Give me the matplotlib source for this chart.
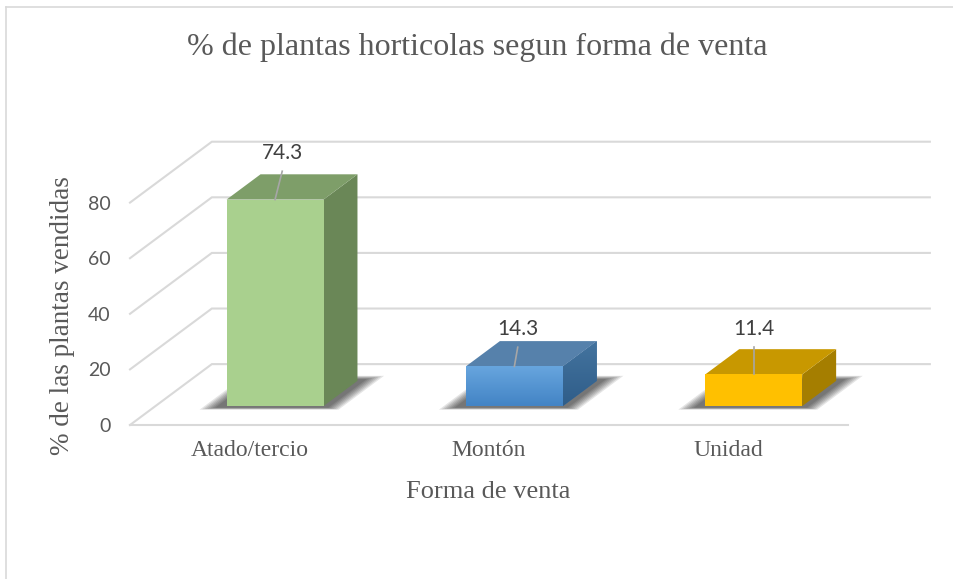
import numpy as np
import matplotlib
matplotlib.use("Agg")
import matplotlib.pyplot as plt
from matplotlib.patches import Polygon
from matplotlib.lines import Line2D
from matplotlib.colors import LinearSegmentedColormap

# data
categories = ["Atado/tercio", "Montón", "Unidad"]
values = [74.3, 14.3, 11.4]
yticks = [0, 20, 40, 60, 80]

title = "% de plantas horticolas segun forma de venta"
xlabel = "Forma de venta"
ylabel = "% de las plantas vendidas"

# styles (front top->bottom, top, side left->right)
front_colors = [("#A9D08E", "#A9D08E"), ("#67A5DE", "#4384C5"), ("#FFC000", "#FFC000")]
top_colors = ["#7E9E69", "#5681AB", "#C89800"]
side_colors = [("#6A8757", "#6A8757"), ("#44749F", "#2F5D89"), ("#A57E00", "#A57E00")]
label_dx = [0.03, 0.014, 0.0]
label_dy = [16.7, 13.4, 16.3]

SERIF = "Liberation Serif"
SANS = "Lato"
GRID = "#D9D9D9"

# oblique 3d look: full depth shifts x by DX (category units) and y by DY (value units)
DX, DY = 0.342, 21.9
D_FRONT, D_BACK = 0.31, 0.725
BAR_W = 0.405


def proj(x, v, d):
    return (x + DX * d, v + DY * d)


def face(ax, pts, c1, c2, z):
    poly = Polygon(pts, closed=True, facecolor=c1, edgecolor="none", zorder=z, clip_on=False)
    ax.add_patch(poly)
    if c1 != c2:
        xs = [p[0] for p in pts]
        ys = [p[1] for p in pts]
        cmap = LinearSegmentedColormap.from_list("g", [c2, c1])
        grad = np.linspace(0, 1, 64).reshape(-1, 1)
        im = ax.imshow(grad, extent=(min(xs), max(xs), min(ys), max(ys)), origin="lower",
                       cmap=cmap, aspect="auto", zorder=z, interpolation="bilinear")
        im.set_clip_path(poly)


fig = plt.figure(figsize=(9.54, 5.79), dpi=100)
fig.patch.set_facecolor("white")
ax = fig.add_axes([130 / 954, 154 / 579, 718 / 954, 278 / 579])
ax.set_facecolor("none")

# frame of the chart (only left/top visible in the picture)
fig.add_artist(Line2D([6.5 / 954, 6.5 / 954], [0, 1 - 6.5 / 579], transform=fig.transFigure,
                      color=GRID, lw=1.2))
fig.add_artist(Line2D([6.5 / 954, 1], [1 - 6.5 / 579, 1 - 6.5 / 579], transform=fig.transFigure,
                      color=GRID, lw=1.2))

x0, x1 = -0.5, len(categories) - 0.5
# side wall + back wall gridlines
for k in yticks:
    a = proj(x0, k, 0)
    b = proj(x0, k, 1)
    c = proj(x1, k, 1)
    ax.plot([a[0], b[0], c[0]], [a[1], b[1], c[1]], color=GRID, lw=1.5, zorder=1,
            clip_on=False, solid_joinstyle="miter")
# front floor edge
ax.plot([x0, x1], [0, 0], color=GRID, lw=1.5, zorder=1, clip_on=False)

for i, v in enumerate(values):
    xl, xr = i - BAR_W / 2, i + BAR_W / 2

    # soft shadow on the floor
    for k in range(7):
        e = 0.009 * (7 - k)
        pts = [proj(xl - 0.03 - e, 0, D_FRONT - 0.02 - e * 0.6),
               proj(xr + 0.02 + e, 0, D_FRONT - 0.02 - e * 0.6),
               proj(xr + 0.02 + e, 0, D_BACK + 0.02 + e),
               proj(xl - 0.03 - e, 0, D_BACK + 0.02 + e)]
        ax.add_patch(Polygon(pts, closed=True, facecolor="black", alpha=0.1,
                             edgecolor="none", zorder=2, clip_on=False))

    front = [proj(xl, 0, D_FRONT), proj(xr, 0, D_FRONT), proj(xr, v, D_FRONT), proj(xl, v, D_FRONT)]
    top = [proj(xl, v, D_FRONT), proj(xr, v, D_FRONT), proj(xr, v, D_BACK), proj(xl, v, D_BACK)]
    side = [proj(xr, 0, D_FRONT), proj(xr, v, D_FRONT), proj(xr, v, D_BACK), proj(xr, 0, D_BACK)]
    face(ax, side, side_colors[i][0], side_colors[i][1], 3)
    face(ax, top, top_colors[i], top_colors[i], 3)
    face(ax, front, front_colors[i][0], front_colors[i][1], 4)

    # value label with leader line
    fx, fy = proj(i, v, D_FRONT)
    lx, ly = fx + label_dx[i], fy + label_dy[i]
    ax.plot([lx, fx], [ly - 6.5, fy], color="#A6A6A6", lw=1.2, zorder=5, clip_on=False)
    ax.text(lx, ly, f"{v:.1f}", ha="center", va="center", fontsize=15,
            family=SANS, color="#404040", zorder=6)

ax.set_xlim(x0, x1)
ax.set_ylim(0, 100)
for s in ax.spines.values():
    s.set_visible(False)

ax.set_yticks(yticks)
ax.set_yticklabels([str(t) for t in yticks], family=SANS, fontsize=14, color="#595959")
ax.set_xticks(range(len(categories)))
ax.set_xticklabels(categories, family=SERIF, fontsize=17, color="#595959")
ax.tick_params(axis="y", length=0, pad=14)
ax.tick_params(axis="x", length=0, pad=11)

ax.set_xlabel(xlabel, family=SERIF, fontsize=19, color="#595959")
ax.xaxis.set_label_coords(0.4986, -0.241)
ax.xaxis.label.set_va("center")
ax.set_ylabel(ylabel, family=SERIF, fontsize=19.5, color="#595959")
ax.yaxis.set_label_coords(-0.0947, 0.392)
ax.yaxis.label.set_va("center")

fig.text(0.5, 1 - 47 / 579, title, ha="center", va="center", family=SERIF,
         fontsize=23, color="#595959")

fig.savefig("out.png", dpi=100)
